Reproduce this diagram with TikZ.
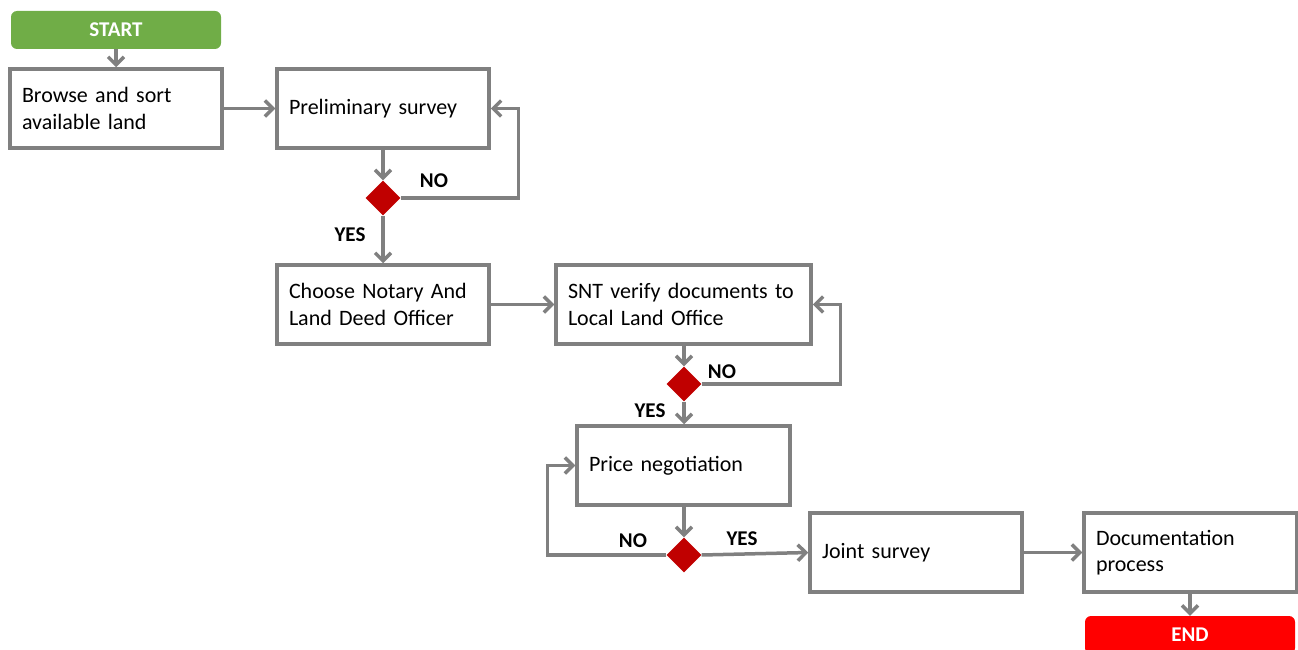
\documentclass[tikz,border=0pt]{standalone}
\usepackage{fontspec}
\setmainfont{Carlito}
\usetikzlibrary{arrows.meta,shapes.geometric}
\definecolor{lgray}{HTML}{808080}
\definecolor{sgreen}{HTML}{70AD47}
\definecolor{dred}{HTML}{C00000}
\definecolor{bred}{HTML}{FF0000}
\tikzset{
  procbox/.style={draw=lgray, line width=3.5pt, fill=white, rectangle, minimum height=79pt,
    inner xsep=12pt, align=left, font=\fontsize{22}{26.5}\selectfont},
  termbox/.style={rounded corners=6pt, minimum width=210pt, minimum height=38pt,
    text=white, font=\fontsize{21}{24}\selectfont\bfseries},
  decision/.style={diamond, fill=dred, minimum width=35pt, minimum height=35pt, inner sep=0pt},
  arr/.style={draw=lgray, line width=3.5pt, -{Straight Barb[length=8pt,width=16pt,line width=3.5pt]}},
  lbl/.style={font=\fontsize{21}{24}\selectfont\bfseries, inner sep=0pt}
}
\begin{document}
\begin{tikzpicture}[x=1pt,y=-1pt]
\useasboundingbox (0,0) rectangle (1298,650);
\node[termbox, fill=sgreen] (start) at (116,30) {START};
\node[procbox, text width=188pt] (browse) at (116,108.5) {Browse and sort\\available land};
\node[procbox, text width=188pt] (prelim) at (383,108.5) {Preliminary survey};
\node[decision] (d1) at (383,198) {};
\node[procbox, text width=188pt] (choose) at (383,304.5) {Choose Notary And\\Land Deed Officer};
\node[procbox, text width=231pt] (snt) at (683.5,304.5) {SNT verify documents to\\Local Land Office};
\node[decision] (d2) at (684,384) {};
\node[procbox, text width=189pt] (price) at (683.5,465.5) {Price negotiation};
\node[decision] (d3) at (684,555) {};
\node[procbox, text width=188pt] (joint) at (916,552.5) {Joint survey};
\node[procbox, text width=189pt] (doc) at (1190.5,552.5) {Documentation\\process};
\node[termbox, fill=bred] (end) at (1190,635) {END};

\draw[arr] (start) -- (browse);
\draw[arr] (browse) -- (prelim);
\draw[arr] (prelim) -- (d1);
\draw[arr] (d1.east) -- ++(118,0) coordinate (n1) |- (prelim.east);
\draw[arr] (d1) -- (choose);
\draw[arr] (choose) -- (snt.west |- choose.center);
\draw[arr] (snt.south -| d2) -- (d2);
\draw[arr] (d2.east) -- ++(139,0) coordinate (n2) |- (snt.east);
\draw[arr] (d2) -- (price.north -| d2);
\draw[arr] (price.south -| d3) -- (d3);
\draw[arr] (d3.west) -- ++(-119,0) coordinate (n3) |- (price.west);
\draw[arr] (d3.east) -- (joint.west);
\draw[arr] (joint) -- (doc);
\draw[arr] (doc.south -| end) -- (end);

\node[lbl] (no1) at (434,181) {NO};
\node[lbl] (yes1) at (350,235) {YES};
\node[lbl] (no2) at (722,372) {NO};
\node[lbl] (yes2) at (650,411) {YES};
\node[lbl] (no3) at (633,541) {NO};
\node[lbl] (yes3) at (742,539) {YES};
\end{tikzpicture}
\end{document}
